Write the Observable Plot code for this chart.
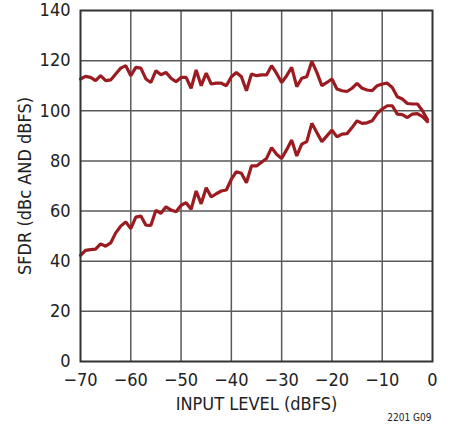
<!DOCTYPE html>
<html>
<head>
<meta charset="utf-8">
<script src="https://cdn.jsdelivr.net/npm/d3@7"></script>
<script src="https://cdn.jsdelivr.net/npm/@observablehq/plot@0.6"></script>
<style>
  html, body { margin: 0; padding: 0; background: #fff; }
</style>
</head>
<body>
<div id="chart"></div>
<script>
// Input level (dBFS), one point per dB
const inputLevel = d3.range(-70, 0, 1);
// SFDR in dBFS (upper trace)
const sfdrDbfs = [
  112.7,113.7,113.3,112,114,112,112.3,114.7,117,118,
  114,117.3,117,112.7,111.3,116,114.4,115.3,113,111.6,
  113.3,113.3,109,116.3,110,115,110.7,111,111,110,
  113.6,115.3,113.6,108,114.7,114,114.3,114.3,118,114.9,
  111.3,114,117.3,109.6,113,113.6,119.7,115.3,110,111.3,
  112.7,108.7,108,107.7,109,110.9,109,108.3,108,110,
  110.7,111,109.3,105.6,104.7,102.9,102.7,102.7,100,96.5
];
// SFDR in dBc (lower trace)
const sfdrDbc = [
  42.3,44.3,44.6,44.8,46.9,46,47.3,51.3,54,55.7,
  53,57.6,58,54.4,54.3,60.3,59.1,61.7,60.4,59.7,
  62.3,63.3,60.7,68,62.9,69.3,65.6,66.9,68,68.4,
  72.7,75.7,75.1,71.3,78,78,79.5,81,85.3,82.7,
  81,84.5,88.3,82,86.7,87.7,95,91.3,87.7,90,
  92.3,89.6,90.7,90.9,93.3,96,95,95.2,96,98.9,
  100.7,102,102,98.7,98.5,97.3,98.7,98.9,97.7,95.7
];
const xTicks = [-70, -60, -50, -40, -30, -20, -10, 0];
const yTicks = [0, 20, 40, 60, 80, 100, 120, 140];
const xTitle = "INPUT LEVEL (dBFS)";
const yTitle = "SFDR (dBc AND dBFS)";
const figNote = "2201 G09";

const upper = inputLevel.map((x, i) => ({x, y: sfdrDbfs[i]}));
const lower = inputLevel.map((x, i) => ({x, y: sfdrDbc[i]}));

const lineColor = "#9b1b21";
const gridColor = "#5a5a5a";

const chart = Plot.plot({
  width: 453,
  height: 427,
  marginLeft: 80,
  marginRight: 21,
  marginTop: 10,
  marginBottom: 66,
  style: {fontFamily: "'Liberation Sans Narrow', 'DejaVu Sans Condensed', sans-serif", fontSize: "18px", color: "#222", background: "#fff"},
  x: {domain: [-70, 0]},
  y: {domain: [0, 140]},
  marks: [
    Plot.gridX(xTicks.slice(1, -1), {stroke: gridColor, strokeOpacity: 1, strokeWidth: 1.5}),
    Plot.gridY(yTicks.slice(1, -1), {stroke: gridColor, strokeOpacity: 1, strokeWidth: 1.5}),
    Plot.axisX(xTicks, {tickSize: 0, tickPadding: 12, label: null, fontSize: 18}),
    Plot.axisY(yTicks, {tickSize: 0, tickPadding: 10, label: null, fontSize: 18}),
    Plot.line(upper, {x: "x", y: "y", stroke: lineColor, strokeWidth: 3.2, strokeLinejoin: "miter"}),
    Plot.line(lower, {x: "x", y: "y", stroke: lineColor, strokeWidth: 3.2, strokeLinejoin: "miter"}),
    Plot.frame({stroke: "#333", strokeWidth: 2}),
    Plot.text([xTitle], {frameAnchor: "bottom", text: d => d, dy: 48, textAnchor: "middle", fontSize: 18, fill: "#222"}),
    Plot.text([yTitle], {frameAnchor: "left", text: d => d, rotate: -90, dx: -55, textAnchor: "middle", fontSize: 18, fill: "#222"}),
    Plot.text([figNote], {frameAnchor: "bottom-right", text: d => d, dy: 59, dx: -1, textAnchor: "end", fontSize: 10, fill: "#222"})
  ]
});
document.getElementById("chart").appendChild(chart);
</script>
</body>
</html>
